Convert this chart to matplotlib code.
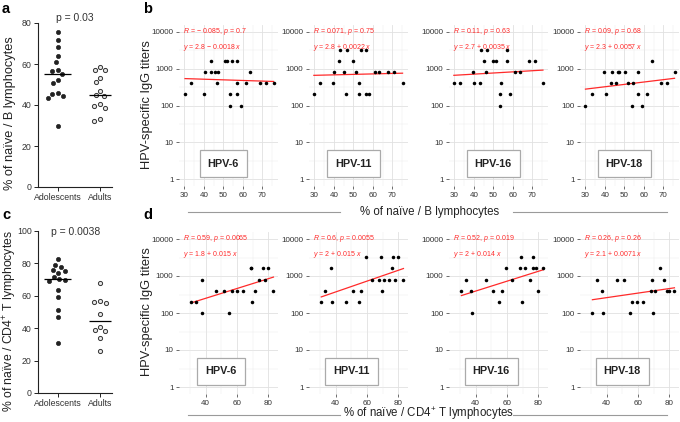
import numpy as np
import matplotlib
matplotlib.use('Agg')
import matplotlib.pyplot as plt
from matplotlib.lines import Line2D

plt.rcParams['font.family'] = ['Liberation Sans', 'DejaVu Sans']
plt.rcParams['mathtext.fontset'] = 'custom'
plt.rcParams['mathtext.rm'] = 'Liberation Sans'
plt.rcParams['mathtext.it'] = 'Liberation Sans:italic'

# ---------------- data ----------------
groups = ['Adolescents', 'Adults']
naive_b_adolescents = [75.6, 71.6, 68.4, 63.8, 61.1, 57.2, 56.8, 55.2, 52.3, 50.5, 45.8, 45.5, 44.5, 43.2, 29.6]
naive_b_adults = [58.6, 57.3, 57.0, 53.4, 51.3, 46.8, 44.9, 44.4, 40.3, 39.5, 38.4, 33.0, 32.4]
naive_cd4_adolescents = [82.6, 79.3, 77.9, 75.8, 75.4, 73.8, 71.3, 70.1, 69.5, 69.2, 63.5, 59.0, 51.2, 46.7, 31.1]
naive_cd4_adults = [68.0, 56.8, 56.0, 55.5, 49.0, 40.5, 39.0, 38.5, 34.0, 26.0]
p_b = 'p = 0.03'
p_cd4 = 'p = 0.0038'

hpv_types = ['HPV-6', 'HPV-11', 'HPV-16', 'HPV-18']

hpv6_b_x = [30.3, 33.6, 39.9, 40.7, 43.6, 43.6, 45.9, 47.2, 46.9, 50.7, 51.8, 53.5, 53.5, 54.5, 56.8, 57.1, 56.8, 58.9, 61.4, 63.9, 68.7, 71.7, 75.8]
hpv6_b_y = [200, 400, 200, 800, 1600, 800, 800, 800, 400, 1600, 1600, 200, 100, 1600, 1600, 400, 200, 100, 400, 800, 400, 400, 400]
hpv11_b_x = [29.7, 33.0, 39.5, 40.3, 42.8, 43.3, 45.0, 46.2, 46.7, 49.7, 51.2, 53.0, 53.0, 53.7, 56.3, 56.7, 58.3, 61.2, 63.3, 68.0, 71.0, 75.3]
hpv11_b_y = [200, 400, 400, 800, 1600, 3200, 800, 200, 3200, 1600, 800, 400, 200, 3200, 200, 3200, 200, 800, 800, 800, 800, 400]
hpv16_b_x = [29.7, 33.0, 39.5, 40.3, 43.0, 43.5, 45.2, 46.2, 46.7, 49.8, 51.2, 53.2, 53.2, 53.8, 56.8, 56.8, 58.5, 61.2, 63.7, 68.3, 71.2, 75.5]
hpv16_b_y = [400, 400, 800, 400, 400, 3200, 1600, 800, 3200, 1600, 1600, 200, 100, 400, 1600, 3200, 200, 800, 800, 1600, 1600, 400]
hpv18_b_x = [30.0, 33.3, 39.7, 40.5, 43.0, 43.8, 45.5, 46.7, 47.5, 50.3, 51.7, 53.7, 54.3, 57.0, 57.0, 59.2, 61.7, 64.2, 68.8, 71.7, 75.8]
hpv18_b_y = [100, 200, 800, 200, 400, 800, 400, 800, 800, 800, 400, 100, 400, 800, 200, 100, 200, 1600, 400, 400, 800]

hpv6_d_x = [31.0, 34.2, 37.5, 38.0, 46.8, 51.7, 54.8, 57.0, 59.7, 63.7, 68.6, 69.2, 69.8, 71.3, 74.2, 76.4, 78.0, 79.7, 83.2]
hpv6_d_y = [200, 200, 800, 100, 400, 400, 100, 400, 400, 400, 1600, 1600, 200, 400, 800, 1600, 800, 1600, 400]
hpv11_d_x = [30.9, 33.4, 37.2, 37.7, 46.8, 51.0, 54.6, 56.3, 59.5, 63.1, 67.9, 69.0, 69.4, 71.1, 74.3, 76.0, 76.4, 78.1, 79.6, 83.2]
hpv11_d_y = [200, 400, 1600, 200, 200, 400, 200, 400, 3200, 800, 800, 3200, 400, 800, 800, 1600, 3200, 800, 3200, 800]
hpv16_d_x = [31.0, 33.7, 37.3, 37.9, 46.8, 51.4, 55.0, 56.7, 59.6, 63.4, 68.2, 69.1, 69.5, 71.4, 74.4, 76.5, 76.5, 78.4, 79.8, 83.2]
hpv16_d_y = [400, 800, 400, 100, 800, 400, 200, 400, 1600, 800, 1600, 3200, 200, 1600, 800, 1600, 3200, 1600, 400, 1600]
hpv18_d_x = [31.0, 34.0, 37.3, 38.0, 46.8, 51.3, 54.9, 56.5, 59.5, 63.3, 68.4, 69.2, 69.6, 71.1, 74.3, 76.4, 78.3, 79.6, 83.2]
hpv18_d_y = [100, 800, 400, 100, 800, 800, 100, 200, 200, 200, 400, 800, 100, 400, 1600, 800, 400, 400, 400]

b_R = ['− 0.085', '0.071', '0.11', '0.09']
b_p = ['0.7', '0.75', '0.63', '0.68']
b_eq = ['2.8 − 0.0018', '2.8 + 0.0022', '2.7 + 0.0035', '2.3 + 0.0057']
d_R = ['0.59', '0.6', '0.52', '0.26']
d_p = ['0.0065', '0.0055', '0.019', '0.26']
d_eq = ['1.8 + 0.015', '2 + 0.015', '2 + 0.014', '2.1 + 0.0071']

titer_ticks = [1, 10, 100, 1000, 10000]
b_xticks = [30, 40, 50, 60, 70]
d_xticks = [40, 60, 80]

# ---------------- layout helpers ----------------
W, H = 680, 422
fig = plt.figure(figsize=(W / 100, H / 100), dpi=100)


def ax_px(left, top, width, height):
    return fig.add_axes([left / W, (H - top - height) / H, width / W, height / H])


def swarm(values, d_px, ppu_y, ppu_x):
    vals = np.asarray(values, float)
    order = np.argsort(-vals)
    placed = []
    offs = np.zeros(len(vals))
    for i in order:
        y = vals[i] * ppu_y
        cands = [0.0]
        for xo, yo in placed:
            dy = abs(y - yo)
            if dy < d_px:
                dx = np.sqrt(d_px ** 2 - dy ** 2)
                cands += [xo + dx, xo - dx]
        cands = sorted(cands, key=lambda c: (abs(c), c))
        chosen = 0.0
        for c in cands:
            if all((c - xo) ** 2 + (y - yo) ** 2 >= d_px ** 2 - 1e-6 for xo, yo in placed):
                chosen = c
                break
        placed.append((chosen, y))
        offs[i] = chosen / ppu_x
    return offs


def dot_panel(ax, adol, adult, ymax, ystep, ppu_y):
    ppu_x = 42.0
    for k, (vals, filled) in enumerate([(adol, True), (adult, False)]):
        off = swarm(vals, 6.0, ppu_y, ppu_x)
        if filled:
            ax.scatter(k + off, vals, s=9, color='#222222', edgecolors='#222222',
                       linewidths=0.5, zorder=3)
        else:
            ax.scatter(k + off, vals, s=9, facecolors='#e6e6e6', edgecolors='#333333',
                       linewidths=0.7, zorder=3)
        hw = 0.32 if k == 0 else 0.26
        ax.hlines(np.median(vals), k - hw, k + hw, color='black', lw=0.9, zorder=4)
    ax.set_xlim(-0.47, 1.28)
    ax.set_ylim(0, ymax)
    ax.set_yticks(np.arange(0, ymax + 1, ystep))
    ax.set_xticks([0, 1])
    ax.set_xticklabels(groups)
    for s in ['top', 'right']:
        ax.spines[s].set_visible(False)
    for s in ['left', 'bottom']:
        ax.spines[s].set_linewidth(0.8)
        ax.spines[s].set_color('#222222')
    ax.tick_params(axis='both', labelsize=6.3, colors='#222222', length=3, width=0.7, pad=1.5)
    ax.tick_params(axis='x', labelcolor='#333333')
    ax.tick_params(axis='y', labelcolor='#333333')
    ax.patch.set_alpha(0)


def scatter_panel(ax, x, y, R, p, eq, label, xlim, xticks, minor_x):
    ax.set_yscale('log')
    ax.set_xlim(*xlim)
    ax.set_ylim(10 ** -0.2, 10 ** 4.2)
    for v in titer_ticks:
        ax.axhline(v, color='#e1e1e1', lw=0.6, zorder=0)
    for e in [0.5, 1.5, 2.5, 3.5]:
        ax.axhline(10 ** e, color='#ededed', lw=0.35, zorder=0)
    for v in xticks:
        ax.axvline(v, color='#e1e1e1', lw=0.6, zorder=0)
    for v in minor_x:
        ax.axvline(v, color='#ededed', lw=0.35, zorder=0)
    ax.set_yticks(titer_ticks)
    ax.set_yticklabels([str(v) for v in titer_ticks])
    ax.yaxis.set_minor_locator(matplotlib.ticker.NullLocator())
    ax.set_xticks(xticks)
    ax.set_xticklabels([str(v) for v in xticks])
    for s in ax.spines.values():
        s.set_visible(False)
    ax.tick_params(axis='both', labelsize=5.8, colors='#333333', length=2.5, width=0.5, pad=1.5)
    xa = np.asarray(x, float)
    ya = np.log10(np.asarray(y, float))
    coef = np.polyfit(xa, ya, 1)
    xs = np.array([xa.min(), xa.max()])
    ax.plot(xs, 10 ** np.polyval(coef, xs), color='#ff2a2a', lw=0.9, zorder=2)
    ax.scatter(x, y, s=6.5, color='black', zorder=3, linewidths=0)
    tx = xlim[0] + 0.045 * (xlim[1] - xlim[0])
    ax.text(tx, 10 ** 4.0, r'$\it{R}$' + ' = ' + R + ', ' + r'$\it{p}$' + ' = ' + p,
            color='#ff2a2a', fontsize=5.0, ha='left', va='center')
    ax.text(tx, 10 ** 3.58, r'$\it{y}$' + ' = ' + eq + ' ' + r'$\it{x}$',
            color='#ff2a2a', fontsize=5.0, ha='left', va='center')
    ax.text(50, 10 ** 0.42, label, fontsize=7.8, fontweight='bold', ha='center', va='center',
            color='#222222',
            bbox=dict(boxstyle='square,pad=0.75', facecolor='white', edgecolor='#aaaaaa', lw=0.9))
    ax.patch.set_alpha(0)


# ---------------- panels a & c ----------------
ax_a = ax_px(38, 23, 74, 164)
dot_panel(ax_a, naive_b_adolescents, naive_b_adults, 80, 20, 164 / 80)
ax_c = ax_px(38, 231, 74, 162)
dot_panel(ax_c, naive_cd4_adolescents, naive_cd4_adults, 100, 20, 162 / 100)
fig.text(75 / W, 1 - 18 / H, p_b, ha='center', va='center', fontsize=7.5, color='#333333')
fig.text(76 / W, 1 - 232 / H, p_cd4, ha='center', va='center', fontsize=7.5, color='#333333')

fig.text(10 / W, 1 - 113 / H, '% of naïve / B lymphocytes', rotation=90, ha='center', va='center',
         fontsize=9.2, color='#222222')
fig.text(10 / W, 1 - 321 / H, '% of naïve / CD4$^{+}$ T lymphocytes', rotation=90, ha='center',
         va='center', fontsize=8.8, color='#222222')

# ---------------- panels b & d ----------------
b_x = [hpv6_b_x, hpv11_b_x, hpv16_b_x, hpv18_b_x]
b_y = [hpv6_b_y, hpv11_b_y, hpv16_b_y, hpv18_b_y]
d_x = [hpv6_d_x, hpv11_d_x, hpv16_d_x, hpv18_d_x]
d_y = [hpv6_d_y, hpv11_d_y, hpv16_d_y, hpv18_d_y]
lefts = [179, 309, 449, 580]
for i in range(4):
    axb = ax_px(lefts[i], 24.6, 99, 161.8)
    scatter_panel(axb, b_x[i], b_y[i], b_R[i], b_p[i], b_eq[i], hpv_types[i],
                  (27.2, 78.1), b_xticks, [35, 45, 55, 65, 75])
    axd = ax_px(lefts[i], 231.6, 99, 162.8)
    scatter_panel(axd, d_x[i], d_y[i], d_R[i], d_p[i], d_eq[i], hpv_types[i],
                  (23.1, 86.1), d_xticks, [30, 50, 70])

fig.text(147 / W, 1 - 105 / H, 'HPV-specific IgG titers', rotation=90, ha='center', va='center',
         fontsize=9.3, color='#222222')
fig.text(147 / W, 1 - 312 / H, 'HPV-specific IgG titers', rotation=90, ha='center', va='center',
         fontsize=9.3, color='#222222')

# x titles with rules
fig.text(430 / W, 1 - 212 / H, '% of naïve / B lymphocytes', ha='center', va='center',
         fontsize=8.3, color='#222222')
fig.text(428 / W, 1 - 414 / H, '% of naïve / CD4$^{+}$ T lymphocytes', ha='center', va='center',
         fontsize=8.3, color='#222222')
for (x0, x1, yy) in [(188, 340, 212), (513, 667, 212), (188, 340, 415), (513, 667, 415)]:
    fig.add_artist(Line2D([x0 / W, x1 / W], [1 - yy / H, 1 - yy / H], color='#9a9a9a', lw=0.8))

# panel letters
for lab, xx, yy in [('a', 2, 2), ('c', 2, 208), ('b', 143, 2), ('d', 143, 208)]:
    fig.text(xx / W, 1 - yy / H, lab, ha='left', va='top', fontsize=10.5, fontweight='bold')

fig.savefig('out.png', dpi=100)
